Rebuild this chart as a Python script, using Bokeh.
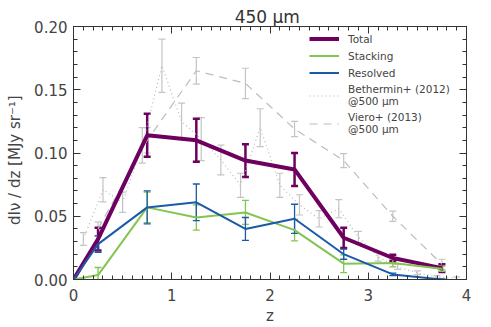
from bokeh.plotting import figure
from bokeh.models import (ColumnDataSource, Whisker, TeeHead, LinearAxis, Legend, LegendItem,
                          Range1d, FixedTicker, Title)
from bokeh.embed import file_html
from bokeh.resources import INLINE

# ---- data ----
z_main = [0, 0.25, 0.75, 1.25, 1.75, 2.25, 2.75, 3.25, 3.75]
total = [0, 0.032, 0.114, 0.110, 0.094, 0.087, 0.033, 0.017, 0.009]
total_err = [0, 0.009, 0.017, 0.017, 0.013, 0.013, 0.008, 0.0025, 0.003]
stacking = [0, 0.0035, 0.057, 0.049, 0.053, 0.039, 0.0125, 0.013, 0.0085]
stacking_err = [0, 0.006, 0.012, 0.010, 0.0095, 0.0085, 0.007, 0.003, 0.002]
resolved = [0, 0.028, 0.057, 0.061, 0.040, 0.048, 0.020, 0.004, 0.0]
resolved_err = [0, 0.0065, 0.013, 0.0145, 0.009, 0.0115, 0.004, 0.001, 0.0005]

z_beth = [0.1, 0.3, 0.5, 0.7, 0.9, 1.1, 1.3, 1.5, 1.7, 1.9, 2.1, 2.3, 2.5, 2.7, 2.9, 3.1, 3.3, 3.5, 3.7, 3.9]
beth = [0.032, 0.071, 0.061, 0.106, 0.169, 0.125, 0.111, 0.0945, 0.0745, 0.120, 0.0745, 0.059,
        0.048, 0.056, 0.0335, 0.0178, 0.010, 0.0053, 0.002, 0.001]
beth_err = [0.005, 0.0096, 0.008, 0.014, 0.021, 0.0145, 0.017, 0.0118, 0.0095, 0.015, 0.0095, 0.008,
            0.0065, 0.0072, 0.0046, 0.0033, 0.002, 0.0015, 0.001, 0.001]

z_viero = [0.25, 0.75, 1.25, 1.75, 2.25, 2.75, 3.25, 3.75]
viero = [0.040, 0.110, 0.165, 0.155, 0.119, 0.094, 0.050, 0.012]
viero_err = [0.0055, 0.010, 0.0105, 0.012, 0.006, 0.0055, 0.004, 0.004]

x_ticks = [0, 1, 2, 3, 4]
x_minor = [i / 10 for i in range(41)]
y_ticks = [0.0, 0.05, 0.10, 0.15, 0.20]
y_minor = [i / 100 for i in range(21)]

FONT = "DejaVu Sans"
TXT = "#444444"
PURPLE = "#6e005f"
GREEN = "#84c450"
BLUE = "#1a5aa8"
GRAY = "#c4c4c4"

p = figure(width=491, height=327, x_range=Range1d(0, 4), y_range=Range1d(0, 0.2),
           output_backend="svg", toolbar_location=None,
           min_border_left=73, min_border_right=25, min_border_top=26, min_border_bottom=47)
p.grid.visible = False
p.outline_line_color = "#333333"

p.title = Title(text="450  \u03bcm", align="center", text_font=FONT, text_font_size="17px",
                text_font_style="normal", text_color="#333333", standoff=0)


def style_axis(ax):
    ax.axis_line_color = "#333333"
    ax.major_tick_line_color = "#333333"
    ax.minor_tick_line_color = "#333333"
    ax.major_tick_in = 7
    ax.major_tick_out = 0
    ax.minor_tick_in = 4
    ax.minor_tick_out = 0
    ax.major_label_text_font = FONT
    ax.major_label_text_color = TXT
    ax.axis_label_text_font = FONT
    ax.axis_label_text_color = TXT
    ax.axis_label_text_font_style = "normal"
    ax.major_label_text_font_size = "15px"
    ax.axis_label_text_font_size = "15px"


xt = FixedTicker(ticks=x_ticks, minor_ticks=x_minor)
yt = FixedTicker(ticks=y_ticks, minor_ticks=y_minor)

p.xaxis.ticker = xt
p.yaxis.ticker = yt
style_axis(p.xaxis[0])
style_axis(p.yaxis[0])
p.xaxis.major_label_standoff = 9
p.yaxis.major_label_standoff = 6
p.yaxis.major_label_overrides = {v: f"{v:.2f}" for v in y_ticks}
p.xaxis.axis_label = "z"
p.yaxis.axis_label = "dI\u03bd  /  dz  [MJy sr\u207b\u00b9]"
p.xaxis.axis_label_standoff = 3
p.yaxis.axis_label_standoff = 7

# frame ticks on the top and right sides (no labels): majors drawn as long "minor" ticks
for side, majors, minors in (("above", x_ticks, x_minor), ("right", y_ticks, y_minor)):
    for ticks, length in ((majors, 7), (minors, 4)):
        ax = LinearAxis(ticker=FixedTicker(ticks=[], minor_ticks=ticks))
        ax.axis_line_color = "#333333"
        ax.minor_tick_line_color = "#333333"
        ax.minor_tick_in = length
        ax.minor_tick_out = 0
        ax.major_tick_in = 0
        ax.major_tick_out = 0
        ax.major_label_standoff = 0
        p.add_layout(ax, side)


def errs(z, v, e):
    zz, lo, up = [], [], []
    for a, b, c in zip(z, v, e):
        if c > 0:
            zz.append(a)
            lo.append(b - c)
            up.append(b + c)
    return ColumnDataSource(dict(z=zz, lo=lo, up=up))


def add_err(z, v, e, color, width):
    w = Whisker(source=errs(z, v, e), base="z", lower="lo", upper="up",
                line_color=color, line_width=width,
                lower_head=TeeHead(size=7, line_color=color, line_width=width),
                upper_head=TeeHead(size=7, line_color=color, line_width=width))
    p.add_layout(w)


# gray reference curves
add_err(z_beth, beth, beth_err, GRAY, 1.2)
r_beth = p.line(z_beth, beth, line_color="#b8b8b8", line_width=1.2, line_dash="1 3")
add_err(z_viero, viero, viero_err, GRAY, 1.2)
r_viero = p.line(z_viero, viero, line_color="#bdbdbd", line_width=1.2, line_dash="8 6")

r_total = p.line(z_main, total, line_color=PURPLE, line_width=4)
add_err(z_main, total, total_err, PURPLE, 2.5)
r_stack = p.line(z_main, stacking, line_color=GREEN, line_width=2)
add_err(z_main, stacking, stacking_err, GREEN, 1.3)
r_res = p.line(z_main, resolved, line_color=BLUE, line_width=2)
add_err(z_main, resolved, resolved_err, BLUE, 1.3)

legend = Legend(items=[
    LegendItem(label="Total", renderers=[r_total]),
    LegendItem(label="Stacking", renderers=[r_stack]),
    LegendItem(label="Resolved", renderers=[r_res]),
    LegendItem(label="Bethermin+ (2012)\n@500 \u03bcm", renderers=[r_beth]),
    LegendItem(label="Viero+ (2013)\n@500 \u03bcm", renderers=[r_viero]),
], location=(236, 144))
legend.border_line_color = None
legend.background_fill_alpha = 0
legend.label_text_font = FONT
legend.label_text_font_size = "10.5px"
legend.label_text_line_height = 1.1
legend.label_text_color = TXT
legend.glyph_width = 30
legend.glyph_height = 13
legend.label_height = 13
legend.label_standoff = 9
legend.spacing = 4
legend.padding = 0
legend.margin = 0
p.add_layout(legend)

html = file_html(p, INLINE)
open("out.html", "w").write(html)
